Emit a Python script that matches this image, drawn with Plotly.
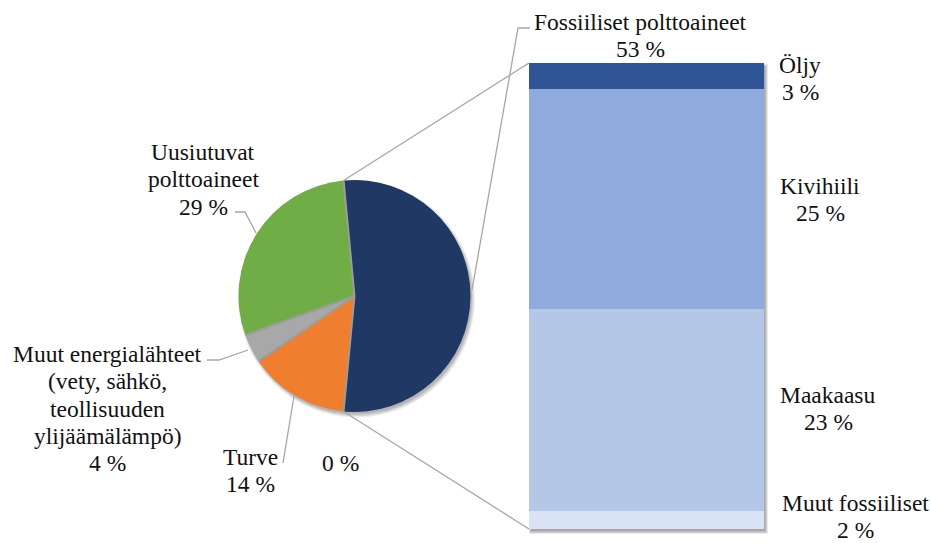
import math
import plotly.graph_objects as go

W, H = 931, 543

# Main pie: share of total fuel use (%)
pie_names = ["Fossiiliset polttoaineet", "Turve",
             "Muut energialähteet (vety, sähkö, teollisuuden ylijäämälämpö)",
             "Uusiutuvat polttoaineet"]
pie_values = [53, 14, 4, 29]
pie_colors = ["#1F3864", "#EF7E2E", "#A8A8A8", "#70AD47"]
pie_label_lines = [["Fossiiliset polttoaineet"], ["Turve"],
                   ["Muut energialähteet", "(vety, sähkö,", "teollisuuden", "ylijäämälämpö)"],
                   ["Uusiutuvat", "polttoaineet"]]

# Category with zero share (label only)
zero_value = 0

# Bar: breakdown of the fossil fuels (%), bottom to top
bar_names = ["Muut fossiiliset", "Maakaasu", "Kivihiili", "Öljy"]
bar_values = [2, 23, 25, 3]
bar_colors = ["#DAE3F3", "#B4C7E7", "#8FAADC", "#2F5597"]

# ---- geometry (pixels, y downward) ----
PIE_CX, PIE_CY, PIE_R = 354.5, 296.0, 116.0
BAR_X0, BAR_X1, BAR_Y0, BAR_Y1 = 529.0, 764.0, 63.0, 529.0
LINE_H = 27.3
FONT = dict(family="Liberation Serif", size=23.5, color="#111111")
GREY = "#A6A6A6"

total = sum(pie_values)
# split slice centred at 3 o'clock
rotation = 90 - 360 * pie_values[0] / total / 2

fig = go.Figure()

fig.add_trace(go.Pie(
    labels=pie_names, values=pie_values, sort=False, direction="clockwise",
    rotation=rotation, textinfo="none", hoverinfo="label+percent",
    marker=dict(colors=pie_colors, line=dict(width=0)),
    domain=dict(x=[(PIE_CX - PIE_R) / W, (PIE_CX + PIE_R) / W],
                y=[1 - (PIE_CY + PIE_R) / H, 1 - (PIE_CY - PIE_R) / H]),
    showlegend=False,
))

for name, val, col in zip(bar_names, bar_values, bar_colors):
    fig.add_trace(go.Bar(
        x=["Fossiiliset"], y=[val], name=name, marker=dict(color=col, line=dict(width=0)),
        xaxis="x2", yaxis="y2", showlegend=False, hoverinfo="name+y",
    ))

shapes = []
# soft drop shadows
for dx, dy, grow, alpha in [(2, 3, 2.5, 0.07), (2, 3, 1.2, 0.10), (1.5, 2.5, 0, 0.14)]:
    shapes.append(dict(type="circle", xref="x", yref="y", layer="below",
                       x0=PIE_CX - PIE_R + dx - grow, x1=PIE_CX + PIE_R + dx + grow,
                       y0=PIE_CY - PIE_R + dy - grow, y1=PIE_CY + PIE_R + dy + grow,
                       fillcolor=f"rgba(0,0,0,{alpha})", line=dict(width=0)))
for dx, dy, grow, alpha in [(2, 3, 2, 0.08), (2, 3, 1, 0.12), (1.5, 2.5, 0, 0.18)]:
    shapes.append(dict(type="rect", xref="x", yref="y", layer="below",
                       x0=BAR_X0 + dx - grow, x1=BAR_X1 + dx + grow,
                       y0=BAR_Y0 + dy - grow, y1=BAR_Y1 + dy + grow,
                       fillcolor=f"rgba(0,0,0,{alpha})", line=dict(width=0)))


def pie_point(angle_deg, r=PIE_R):
    a = math.radians(angle_deg)
    return PIE_CX + r * math.sin(a), PIE_CY - r * math.cos(a)


# slice boundary angles (clockwise from 12 o'clock)
bounds = [rotation]
for v in pie_values:
    bounds.append(bounds[-1] + 360 * v / total)

# grey separators between slices
for ang in bounds[:-1]:
    ex, ey = pie_point(ang, PIE_R - 0.5)
    shapes.append(dict(type="line", xref="x", yref="y", x0=PIE_CX, y0=PIE_CY, x1=ex, y1=ey,
                       line=dict(color="#9C9C9C", width=2)))

# connector lines from the split slice to the bar
(px0, py0), (px1, py1) = pie_point(bounds[0]), pie_point(bounds[1])
for (sx, sy), (ex, ey) in [((px0, py0), (BAR_X0, BAR_Y0)), ((px1, py1), (BAR_X0, BAR_Y1))]:
    shapes.append(dict(type="line", xref="x", yref="y", x0=sx, y0=sy, x1=ex, y1=ey,
                       line=dict(color=GREY, width=1.3)))

# label leader lines
leaders = [
    [(530, 28), (518, 28), (472, 290)],
    [(235, 212), (245, 212), (256, 233)],
    [(207, 360), (219, 360), (248, 350)],
    [(283, 463), (294, 396)],
]
for pts in leaders:
    path = "M " + " L ".join(f"{x},{y}" for x, y in pts)
    shapes.append(dict(type="path", xref="x", yref="y", path=path,
                       line=dict(color=GREY, width=1.3)))

annotations = []


def add_label(lines, cx, cy):
    for i, t in enumerate(lines):
        annotations.append(dict(text=t, x=cx, y=cy + i * LINE_H, xref="x", yref="y",
                                showarrow=False, xanchor="center", yanchor="middle",
                                font=FONT))


pie_pos = [(640, 22), (250, 457), (107, 354), (203, 152)]
for lines, val, (cx, cy) in zip(pie_label_lines, pie_values, pie_pos):
    add_label(lines + [f"{val} %"], cx, cy)

add_label([f"{zero_value} %"], 340, 463)

bar_pos = {"Öljy": (800, 65), "Kivihiili": (820, 186),
           "Maakaasu": (828, 395), "Muut fossiiliset": (855, 503)}
for name, val in zip(bar_names, bar_values):
    cx, cy = bar_pos[name]
    add_label([name, f"{val} %"], cx, cy)

fig.update_layout(
    width=W, height=H, margin=dict(l=0, r=0, t=0, b=0),
    paper_bgcolor="white", plot_bgcolor="rgba(0,0,0,0)",
    barmode="stack", bargap=0, font=FONT,
    xaxis=dict(range=[0, W], domain=[0, 1], visible=False, fixedrange=True),
    yaxis=dict(range=[H, 0], domain=[0, 1], visible=False, fixedrange=True),
    xaxis2=dict(domain=[BAR_X0 / W, BAR_X1 / W], anchor="y2", visible=False,
                range=[-0.5, 0.5], type="category"),
    yaxis2=dict(domain=[1 - BAR_Y1 / H, 1 - BAR_Y0 / H], anchor="x2", visible=False,
                range=[0, sum(bar_values)]),
    shapes=shapes, annotations=annotations,
)

fig.write_html("out.html")
